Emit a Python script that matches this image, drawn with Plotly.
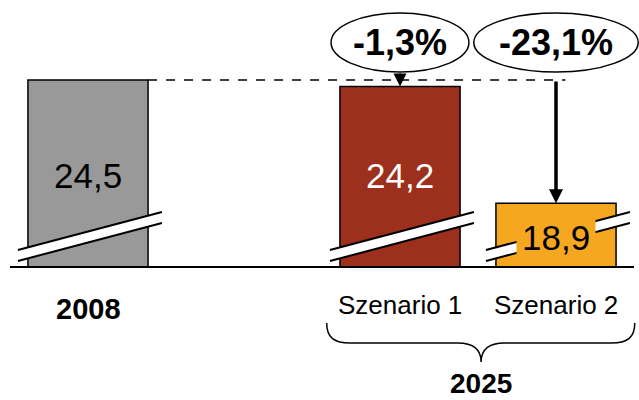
import plotly.graph_objects as go

# ---- data ----
categories = ["2008", "Szenario 1", "Szenario 2"]
values = [24.5, 24.2, 18.9]
value_labels = ["24,5", "24,2", "18,9"]
change_labels = ["-1,3%", "-23,1%"]
group_label = "2025"
slots = [0, 2, 3]

# ---- styling / geometry ----
colors = ["#999999", "#9C301C", "#F5A81F"]
label_colors = ["black", "white", "black"]
BREAK = 16.0
W, H = 639, 400
X0_PX, SX = 88.0, 156.0        # pixel of slot 0, pixels per slot
SY = 22.0                      # pixels per unit
YTOP = values[0] + 80 / SY     # value at top edge of page
YBOT = YTOP - H / SY
BAR_W = 0.77
FONT = "Liberation Sans, Arial, sans-serif"


def py(px):   # pixel row -> data y
    return YTOP - px / SY


def pp(px):   # pixel row -> paper y
    return 1 - px / H


fig = go.Figure()
fig.add_trace(go.Bar(
    x=slots, y=[v - BREAK for v in values], base=BREAK, width=BAR_W,
    marker=dict(color=colors, line=dict(color="black", width=1.5)),
    hoverinfo="skip", showlegend=False))

shapes = []
# baseline
shapes.append(dict(type="line", xref="x", yref="y", x0=-0.5, x1=3.5,
                   y0=BREAK, y1=BREAK, line=dict(color="black", width=2)))
# break stripes
for xc in slots:
    x1, x2 = xc - 0.449, xc + 0.474
    a, b, c, d = BREAK + 0.273, BREAK + 0.773, BREAK + 2.5, BREAK + 2.0
    shapes.append(dict(type="path", xref="x", yref="y",
                       path=f"M{x1},{a} L{x1},{b} L{x2},{c} L{x2},{d} Z",
                       fillcolor="white", line=dict(width=0)))
    shapes.append(dict(type="line", xref="x", yref="y", x0=x1, y0=b, x1=x2, y1=c,
                       line=dict(color="black", width=2)))
    shapes.append(dict(type="line", xref="x", yref="y", x0=x1, y0=a, x1=x2, y1=d,
                       line=dict(color="black", width=2)))
# dashed reference line from 2008 bar
shapes.append(dict(type="line", xref="x", yref="y", x0=slots[0] + BAR_W / 2, x1=3.06,
                   y0=values[0], y1=values[0],
                   line=dict(color="black", width=1.5, dash="dash")))
# ellipses
for xc, rx in [(slots[1], 0.442), (slots[2], 0.527)]:
    shapes.append(dict(type="circle", xref="x", yref="y", x0=xc - rx, x1=xc + rx,
                       y0=py(72), y1=py(13), fillcolor="white",
                       line=dict(color="black", width=1.5)))
# brace under scenarios
xl, xr, xm = 1.53, 3.505, 2.52
k = 0.15
brace = (f"M{xl},{pp(323)} C{xl},{pp(338)} {xl+0.05},{pp(343)} {xl+k},{pp(343)} "
         f"L{xm-k},{pp(343)} C{xm-0.05},{pp(343)} {xm},{pp(350)} {xm},{pp(362)} "
         f"C{xm},{pp(350)} {xm+0.05},{pp(343)} {xm+k},{pp(343)} "
         f"L{xr-k},{pp(343)} C{xr-0.05},{pp(343)} {xr},{pp(338)} {xr},{pp(323)}")
shapes.append(dict(type="path", xref="x", yref="paper", path=brace,
                   line=dict(color="black", width=1.5)))

ann = []
# value labels
label_y = [py(175), py(175), py(237)]
for i in range(3):
    a = dict(x=slots[i], y=label_y[i], xref="x", yref="y", text=value_labels[i],
             showarrow=False, yanchor="middle",
             font=dict(family=FONT, size=35, color=label_colors[i]))
    if i == 2:
        a.update(bgcolor=colors[2], borderpad=5)
    ann.append(a)
# change labels in ellipses
for xc, t in zip(slots[1:], change_labels):
    ann.append(dict(x=xc, y=py(42), xref="x", yref="y", text=f"<b>{t}</b>",
                    showarrow=False, yanchor="middle",
                    font=dict(family=FONT, size=36, color="black")))
# arrows
ann.append(dict(x=slots[1], y=values[1], ax=slots[1], ay=py(72), xref="x", yref="y",
                axref="x", ayref="y", text="", showarrow=True, arrowhead=2,
                arrowwidth=2, arrowsize=1.3, arrowcolor="black"))
ann.append(dict(x=slots[2], y=values[2], ax=slots[2], ay=values[0], xref="x", yref="y",
                axref="x", ayref="y", text="", showarrow=True, arrowhead=2,
                arrowwidth=3.5, arrowsize=0.8, arrowcolor="black"))
# category labels
ann.append(dict(x=slots[0], y=pp(309), xref="x", yref="paper", text=f"<b>{categories[0]}</b>",
                showarrow=False, xanchor="center", yanchor="middle",
                font=dict(family=FONT, size=29, color="black")))
for i in (1, 2):
    ann.append(dict(x=slots[i], y=pp(305), xref="x", yref="paper", text=categories[i],
                    showarrow=False, xanchor="center", yanchor="middle",
                    font=dict(family=FONT, size=26, color="black")))
ann.append(dict(x=xm, y=0, xref="x", yref="paper", text=f"<b>{group_label}</b>",
                showarrow=False, xanchor="center", yanchor="bottom", borderpad=0,
                font=dict(family=FONT, size=28, color="black")))

fig.update_layout(
    width=W, height=H, margin=dict(l=0, r=0, t=0, b=0),
    paper_bgcolor="white", plot_bgcolor="white",
    xaxis=dict(range=[-X0_PX / SX, (W - X0_PX) / SX], visible=False, fixedrange=True),
    yaxis=dict(range=[YBOT, YTOP], visible=False, fixedrange=True),
    shapes=shapes, annotations=ann, showlegend=False)

fig.write_html("out.html")
